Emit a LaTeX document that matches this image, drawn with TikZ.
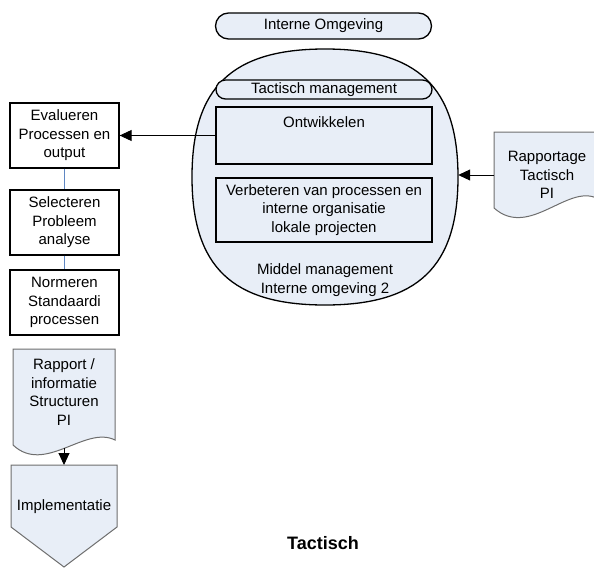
\documentclass[tikz,border=0pt]{standalone}
\usepackage{fontspec}
\setmainfont{Liberation Sans}
\usetikzlibrary{arrows.meta,shapes.misc}
\definecolor{paleblue}{RGB}{232,238,247}
\definecolor{linkblue}{RGB}{95,135,195}
\definecolor{docgray}{RGB}{110,110,110}

\begin{document}
\begin{tikzpicture}[x=1pt,y=-1pt,
  every node/.style={font=\fontsize{15}{18.5}\selectfont, align=center, inner sep=0pt},
  box/.style={draw=black, line width=1.3pt, fill=white, minimum width=109pt, minimum height=65pt},
  innerbox/.style={draw=black, line width=1.3pt, fill=paleblue, minimum width=216pt},
  pill/.style={draw=black, line width=1.3pt, fill=paleblue, rounded rectangle, minimum width=216pt},
  ovalline/.style={draw=black, line width=1.3pt, fill=paleblue},
  link/.style={draw=linkblue, line width=0.8pt},
  flow/.style={draw=black, line width=0.9pt, -{Triangle[length=12pt,width=11pt]}},
  docshape/.style={draw=docgray, line width=1pt, fill=paleblue}]

\useasboundingbox (0,0) rectangle (594,568);

% top label
\node[pill, minimum height=26pt] (omgeving) at (323.5,26) {Interne Omgeving};

% middle management oval (squarish ellipse) with its contents
\path[ovalline] (192,177) .. controls (192,87.4) and (231.9,49) .. (325,49)
  .. controls (418.1,49) and (458,87.4) .. (458,177)
  .. controls (458,266.6) and (418.1,305) .. (325,305)
  .. controls (231.9,305) and (192,266.6) .. (192,177) -- cycle;
\node[minimum width=266pt, minimum height=256pt] (oval) at (325,177) {};
\node[pill, minimum height=19pt] (tactmgmt) at (324,89.5) {Tactisch management};
\node[innerbox, minimum height=57pt] (ontw) at (324,135.5) {};
\node (ontwtext) at (324,122) {Ontwikkelen};
\node[innerbox, minimum height=64pt] (verb) at (324,210)
  {Verbeteren van processen en\\interne organisatie\\lokale projecten};
\node (middel) at (325,280) {Middel management\\Interne omgeving 2};

% left column of steps
\node[box] (eval) at (64.5,135.5) {Evalueren\\Processen en\\output};
\node[box] (sel) at (64.5,222.5) {Selecteren\\Probleem\\analyse};
\node[box] (norm) at (64.5,302.5) {Normeren\\Standaardi\\processen};
\draw[link] (eval.south) -- (sel.north);
\draw[link] (sel.south) -- (norm.north);

% report document
\path[docshape] (13,349) -- (115,349) -- (115,440)
  .. controls (85,425) and (45,475) .. (13,445) -- cycle;
\node (rapport) at (64,392) {Rapport /\\informatie\\Structuren\\PI};
\coordinate (rapportbottom) at (64,448);

% implementation (off-page connector)
\path[docshape] (11,465) -- (117,465) -- (117,527) -- (64,567) -- (11,527) -- cycle;
\node (impl) at (64,507) {Implementatie};
\coordinate (impltop) at (64,465);
\draw[flow] (rapportbottom) -- (impltop);

% reporting document on the right
\path[docshape] (494,132) -- (600,132) -- (600,200)
  .. controls (570,180) and (530,240) .. (494,208) -- cycle;
\node (rapportage) at (547,175) {Rapportage\\Tactisch\\PI};
\coordinate (rapin) at (494,175);

% flows
\draw[flow] (rapin) -- (rapin -| oval.east);
\draw[flow] (ontw.west) -- (ontw.west -| eval.east);

% caption
\node[font=\fontsize{18}{21}\selectfont\bfseries] (caption) at (323,543) {Tactisch};
\end{tikzpicture}
\end{document}
